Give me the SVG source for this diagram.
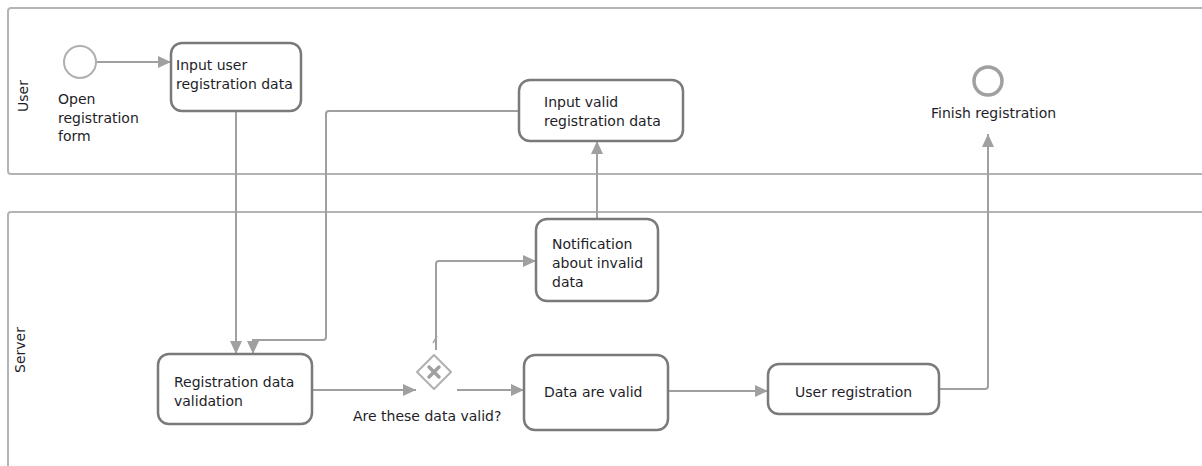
<svg xmlns="http://www.w3.org/2000/svg" width="1202" height="466" viewBox="0 0 1202 466">
<defs>
<marker id="arr" markerUnits="userSpaceOnUse" markerWidth="14" markerHeight="14" viewBox="0 0 14 14" refX="13" refY="7" orient="auto">
<path d="M0,1 L13,7 L0,13 Z" fill="#a0a0a0"/>
</marker>
<style>
.lane{fill:#ffffff;stroke:#b4b4b4;stroke-width:2}
.task{fill:#ffffff;stroke:#7a7a7a;stroke-width:2.5}
.t{font-family:"DejaVu Sans",Verdana,sans-serif;font-size:14px;fill:#1e1e28}
.flow{fill:none;stroke:#a0a0a0;stroke-width:2;marker-end:url(#arr)}
</style>
</defs>
<rect width="1202" height="466" fill="#ffffff"/>
<g id="lane-user">
<rect class="lane" x="8" y="8" width="1210" height="166" rx="3"/>
<text class="t" transform="translate(28,96) rotate(-90)" text-anchor="middle">User</text>
</g>
<g id="lane-server">
<rect class="lane" x="8" y="212" width="1210" height="280" rx="3"/>
<text class="t" transform="translate(25,350) rotate(-90)" text-anchor="middle">Server</text>
</g>
<g id="connectors">
<path class="flow" d="M97,62 H171"/>
<path class="flow" d="M236,111 V354"/>
<path class="flow" d="M519,111 H329 Q326,111 326,114 V337 Q326,340 323,340 H253 V354"/>
<path class="flow" d="M312,390 H416"/>
<path class="flow" d="M457,390 H524"/>
<path class="flow" d="M436,350 V264 Q436,261 439,261 H536"/>
<path d="M433,343 L437,336" stroke="#a0a0a0" stroke-width="1.5" fill="none"/>
<path class="flow" d="M597,219 V141"/>
<path class="flow" d="M668,391 H768"/>
<path class="flow" d="M939,389 H985 Q988,389 988,386 V134"/>
</g>
<g id="start">
<circle cx="80" cy="62" r="16" fill="#ffffff" stroke="#b0b0b0" stroke-width="2"/>
<text class="t" x="58" y="104">Open</text>
<text class="t" x="58" y="123">registration</text>
<text class="t" x="58" y="141">form</text>
</g>
<g id="task-input-user">
<rect class="task" x="171" y="43" width="130" height="68" rx="11"/>
<text class="t" x="176" y="70">Input user</text>
<text class="t" x="176" y="89">registration data</text>
</g>
<g id="task-input-valid">
<rect class="task" x="519" y="80" width="164" height="61" rx="11"/>
<text class="t" x="544" y="107">Input valid</text>
<text class="t" x="544" y="126">registration data</text>
</g>
<g id="end">
<circle cx="988" cy="81" r="14" fill="#ffffff" stroke="#a0a0a0" stroke-width="3.5"/>
<text class="t" x="931" y="118">Finish registration</text>
</g>
<g id="task-notification">
<rect class="task" x="536" y="219" width="122" height="82" rx="11"/>
<text class="t" x="552" y="249">Notification</text>
<text class="t" x="552" y="268">about invalid</text>
<text class="t" x="552" y="287">data</text>
</g>
<g id="task-validation">
<rect class="task" x="158" y="354" width="154" height="70" rx="11"/>
<text class="t" x="174" y="387">Registration data</text>
<text class="t" x="174" y="406">validation</text>
</g>
<g id="gateway">
<path d="M434,355 L451,372 L434,389 L417,372 Z" fill="#ffffff" stroke="#b0b0b0" stroke-width="2" stroke-linejoin="round"/>
<path d="M429,367 L439,377 M439,367 L429,377" stroke="#a0a0a0" stroke-width="3.5" stroke-linecap="round"/>
<text class="t" x="353" y="421">Are these data valid?</text>
</g>
<g id="task-data-valid">
<rect class="task" x="524" y="355" width="144" height="75" rx="11"/>
<text class="t" x="544" y="397">Data are valid</text>
</g>
<g id="task-user-registration">
<rect class="task" x="768" y="364" width="171" height="50" rx="11"/>
<text class="t" x="795" y="397">User registration</text>
</g>
</svg>
